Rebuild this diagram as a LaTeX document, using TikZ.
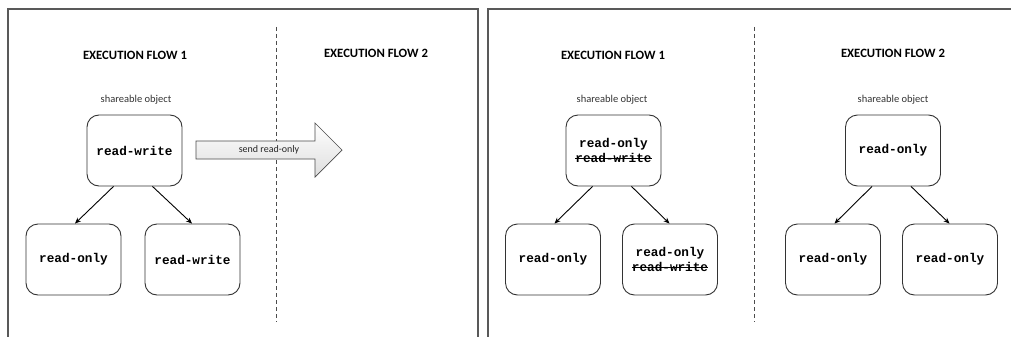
\documentclass[tikz,border=0pt]{standalone}
\usepackage{fontspec}
\setmainfont{Carlito}
\setmonofont{Liberation Mono}
\newsavebox\strkbox
\newcommand\strk[1]{\leavevmode\sbox\strkbox{#1}\rlap{\rule[0.27em]{\wd\strkbox}{1.1pt}}\usebox\strkbox}
\usetikzlibrary{arrows.meta}
\tikzset{
  frame/.style={draw=black!65, line width=1.4pt},
  divider/.style={draw=black!70, line width=0.9pt, dash pattern=on 4pt off 3pt},
  title/.style={font=\bfseries\fontsize{12.7}{15}\selectfont},
  caption/.style={font=\fontsize{10.5}{12}\selectfont, text=black!80},
  objbox/.style={draw=black!80, rounded corners=12pt, minimum width=95pt, minimum height=71pt,
    line width=0.9pt, align=center, inner sep=2pt, font=\ttfamily\bfseries\fontsize{12.7}{15}\selectfont},
  link/.style={-{Stealth[length=6pt,width=5pt]}, line width=0.9pt, black},
  bigarrow/.style={draw=black!70, line width=0.7pt, top color=white, bottom color=black!13},
}
\begin{document}
\begin{tikzpicture}[x=1pt,y=-1pt]
\useasboundingbox (0,0) rectangle (1011,337);
\fill[white] (0,0) rectangle (1011,337);
% frames
\draw[frame] (8,337) -- (8,9) -- (478,9) -- (478,337);
\draw[frame] (488,337) -- (488,9) -- (1011,9);
% dividers
\coordinate (d1a) at (276,27); \coordinate (d1b) at (276,322);
\coordinate (d2a) at (754,27); \coordinate (d2b) at (754,322);
\draw[divider] (d1a) -- (d1b);
\draw[divider] (d2a) -- (d2b);

% ---- left panel ----
\node[title] (t11) at (135,55) {EXECUTION FLOW 1};
\node[title] (t12) at (376,53) {EXECUTION FLOW 2};
\node[caption] (c1) at (136,100) {shareable object};
\node[objbox] (a) at (134.5,150.5) {read-write};
\node[objbox] (a1) at (73.5,259.5) {read-only};
\node[objbox] (a2) at (192.5,259.5) {read-write};
\draw[link] ([xshift=-21pt]a.south) -- ([xshift=1.5pt]a1.north);
\draw[link] ([xshift=18pt]a.south) -- ([xshift=-0.5pt]a2.north);

% big arrow
\draw[bigarrow] (196,141) -- (315,141) -- (315,123) -- (342,150) -- (315,177) -- (315,159) -- (196,159) -- cycle;
\node[font=\fontsize{10}{12}\selectfont, text=black!85] (send) at (269,149.5) {send read-only};

% ---- right panel ----
\node[title] (t21) at (613,55) {EXECUTION FLOW 1};
\node[title] (t22) at (893,53) {EXECUTION FLOW 2};
\node[caption] (c2) at (612,100) {shareable object};
\node[caption] (c3) at (893,100) {shareable object};
\node[objbox] (b) at (613.5,150.5) {read-only\\\strk{read-write}};
\node[objbox] (b1) at (553,259.5) {read-only};
\node[objbox] (b2) at (670,259.5) {read-only\\\strk{read-write}};
\draw[link] ([xshift=-21pt]b.south) -- ([xshift=1.5pt]b1.north);
\draw[link] ([xshift=18pt]b.south) -- ([xshift=-0.5pt]b2.north);
\node[objbox] (c) at (893,150.5) {read-only};
\node[objbox] (c1b) at (833,259.5) {read-only};
\node[objbox] (c2b) at (950,259.5) {read-only};
\draw[link] ([xshift=-21pt]c.south) -- ([xshift=1.5pt]c1b.north);
\draw[link] ([xshift=18pt]c.south) -- ([xshift=-0.5pt]c2b.north);
\end{tikzpicture}
\end{document}
